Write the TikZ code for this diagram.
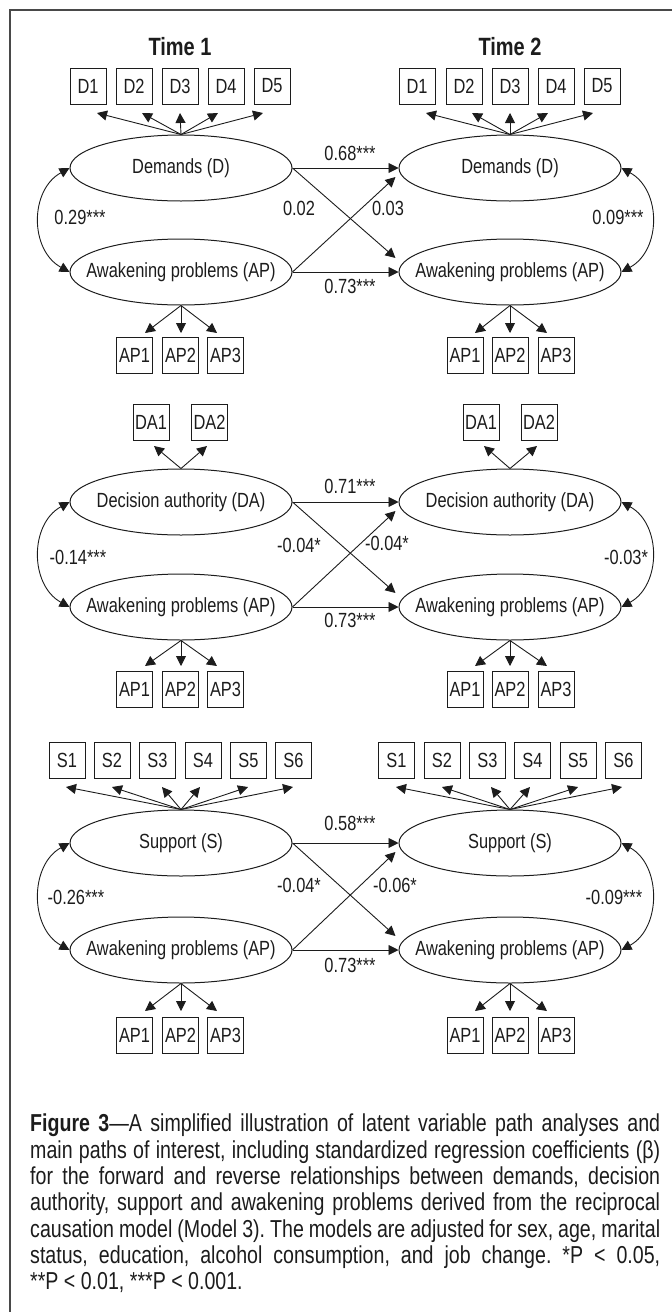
\documentclass[tikz,border=0pt]{standalone}
\usepackage{fontspec}
\setmainfont{Liberation Sans}[FakeStretch=0.8]
\usetikzlibrary{shapes.geometric,arrows.meta,calc}
\definecolor{ink}{HTML}{1C1C1C}
\newcommand{\nodefont}{\fontsize{20.5}{23}\selectfont}
\newcommand{\timefont}{\fontsize{25}{28}\selectfont\bfseries}
\newcommand{\capfont}{\fontsize{24.5}{26.3}\selectfont}
% label of fixed-size latent ellipses (does not widen the shape)
\newcommand{\zw}[1]{\makebox[0pt]{#1}}
\frenchspacing
\begin{document}
\begin{tikzpicture}[x=1pt,y=-1pt,
  latent/.style={ellipse, draw=ink, line width=1pt, minimum width=222pt,
    minimum height=66pt, inner sep=0pt, font=\nodefont, text=ink},
  item/.style={rectangle, draw=ink, line width=0.9pt, minimum width=36pt,
    minimum height=36pt, inner sep=0pt, font=\nodefont, text=ink},
  coef/.style={font=\nodefont, inner sep=0pt, text=ink},
  load/.style={-{Triangle[length=10pt,width=10pt]}, line width=0.9pt, draw=ink},
  cov/.style={{Triangle[length=10pt,width=10pt]}-{Triangle[length=10pt,width=10pt]},
    line width=0.9pt, draw=ink},
]
\useasboundingbox (0,0) rectangle (672,1312);
% frame
\draw[line width=1.5pt, draw=ink!80] (10,1312) -- (10,10) -- (672,10);

% time headers
\node[font=\timefont, text=ink] (time1) at (180,47) {Time 1};
\node[font=\timefont, text=ink] (time2) at (510,47) {Time 2};

% ---------- demands ----------
\node[latent] (d1) at (181,168) {\zw{Demands (D)}};
\node[latent] (pa1) at (181,272) {\zw{Awakening problems (AP)}};
\node[latent] (d2) at (510,168) {\zw{Demands (D)}};
\node[latent] (pa2) at (510,272) {\zw{Awakening problems (AP)}};
\foreach \i/\x/\tx in {1/88/97,2/134/142,3/180/180,4/226/218,5/272/263}{
  \node[item] (dl\i) at (\x,86) {D\i};
  \coordinate (dlt\i) at (\tx,113);
  \draw[load] (d1.north) -- (dlt\i);
}
\foreach \i/\x/\tx in {1/417/426,2/464/472,3/510/510,4/556/548,5/602/593}{
  \node[item] (dr\i) at (\x,86) {D\i};
  \coordinate (drt\i) at (\tx,113);
  \draw[load] (d2.north) -- (drt\i);
}
\foreach \i/\x/\tx in {1/134.5/145,2/180.5/181,3/225.5/217}{
  \node[item] (pal\i) at (\x,355) {AP\i};
  \coordinate (palt\i) at (\tx,333);
  \draw[load] (pa1.south) -- (palt\i);
}
\foreach \i/\x/\tx in {1/465/475,2/510/510,3/556/547}{
  \node[item] (par\i) at (\x,355) {AP\i};
  \coordinate (part\i) at (\tx,333);
  \draw[load] (pa2.south) -- (part\i);
}
\draw[load] (d1.east) -- (d2.west);
\draw[load] (pa1.east) -- (pa2.west);
\draw[load] (d1.east) -- ($(pa2.west)+(-3,-14)$);
\draw[load] (pa1.east) -- ($(d2.west)+(-3,9)$);
\draw[cov] (d1.west) .. controls +(-40,22) and +(-40,-22) .. (pa1.west);
\draw[cov] (d2.east) .. controls +(40,22) and +(40,-22) .. (pa2.east);
\node[coef] (c1a) at (350,153) {0.68***};
\node[coef] (c1b) at (350,286) {0.73***};
\node[coef] (c1c) at (299,208) {0.02};
\node[coef] (c1d) at (388,208) {0.03};
\node[coef] (c1e) at (80,217) {0.29***};
\node[coef] (c1f) at (618,217) {0.09***};

% ---------- decision authority ----------
\node[latent] (da1) at (181,502) {\zw{Decision authority (DA)}};
\node[latent] (pb1) at (181,607) {\zw{Awakening problems (AP)}};
\node[latent] (da2) at (510,502) {\zw{Decision authority (DA)}};
\node[latent] (pb2) at (510,607) {\zw{Awakening problems (AP)}};
\foreach \i/\x/\tx in {1/151/154,2/209.5/207}{
  \node[item] (dal\i) at (\x,422) {DA\i};
  \coordinate (dalt\i) at (\tx,446);
  \draw[load] (da1.north) -- (dalt\i);
}
\foreach \i/\x/\tx in {1/481/484,2/539/537}{
  \node[item] (dar\i) at (\x,422) {DA\i};
  \coordinate (dart\i) at (\tx,446);
  \draw[load] (da2.north) -- (dart\i);
}
\foreach \i/\x/\tx in {1/134.5/145,2/180.5/181,3/225.5/217}{
  \node[item] (pbl\i) at (\x,689) {AP\i};
  \coordinate (pblt\i) at (\tx,666);
  \draw[load] (pb1.south) -- (pblt\i);
}
\foreach \i/\x/\tx in {1/465/475,2/510/510,3/556/547}{
  \node[item] (pbr\i) at (\x,689) {AP\i};
  \coordinate (pbrt\i) at (\tx,666);
  \draw[load] (pb2.south) -- (pbrt\i);
}
\draw[load] (da1.east) -- (da2.west);
\draw[load] (pb1.east) -- (pb2.west);
\draw[load] (da1.east) -- ($(pb2.west)+(-3,-14)$);
\draw[load] (pb1.east) -- ($(da2.west)+(-3,9)$);
\draw[cov] (da1.west) .. controls +(-40,22) and +(-40,-22) .. (pb1.west);
\draw[cov] (da2.east) .. controls +(40,22) and +(40,-22) .. (pb2.east);
\node[coef] (c2a) at (350,486) {0.71***};
\node[coef] (c2b) at (350,620) {0.73***};
\node[coef] (c2c) at (299,545) {-0.04*};
\node[coef] (c2d) at (387,543) {-0.04*};
\node[coef] (c2e) at (78,557) {-0.14***};
\node[coef] (c2f) at (626,557) {-0.03*};

% ---------- support ----------
\node[latent] (s1) at (181,843) {\zw{Support (S)}};
\node[latent] (pc1) at (181,950) {\zw{Awakening problems (AP)}};
\node[latent] (s2) at (510,843) {\zw{Support (S)}};
\node[latent] (pc2) at (510,950) {\zw{Awakening problems (AP)}};
\foreach \i/\x/\tx in {1/67/66,2/112/112,3/157.5/162,4/203/200,5/248.5/248,6/293.5/293}{
  \node[item] (sl\i) at (\x,760) {S\i};
  \coordinate (slt\i) at (\tx,787);
  \draw[load] (s1.north) -- (slt\i);
}
\foreach \i/\x/\tx in {1/396.5/396,2/442/442,3/487.5/491,4/532.5/530,5/578/578,6/623.5/622}{
  \node[item] (sr\i) at (\x,760) {S\i};
  \coordinate (srt\i) at (\tx,787);
  \draw[load] (s2.north) -- (srt\i);
}
\foreach \i/\x/\tx in {1/134.5/145,2/180.5/181,3/225.5/217}{
  \node[item] (pcl\i) at (\x,1035) {AP\i};
  \coordinate (pclt\i) at (\tx,1011);
  \draw[load] (pc1.south) -- (pclt\i);
}
\foreach \i/\x/\tx in {1/465/475,2/510/510,3/556/547}{
  \node[item] (pcr\i) at (\x,1035) {AP\i};
  \coordinate (pcrt\i) at (\tx,1011);
  \draw[load] (pc2.south) -- (pcrt\i);
}
\draw[load] (s1.east) -- (s2.west);
\draw[load] (pc1.east) -- (pc2.west);
\draw[load] (s1.east) -- ($(pc2.west)+(-3,-14)$);
\draw[load] (pc1.east) -- ($(s2.west)+(-3,9)$);
\draw[cov] (s1.west) .. controls +(-40,22) and +(-40,-22) .. (pc1.west);
\draw[cov] (s2.east) .. controls +(40,22) and +(40,-22) .. (pc2.east);
\node[coef] (c3a) at (350,823) {0.58***};
\node[coef] (c3b) at (350,965) {0.73***};
\node[coef] (c3c) at (299,885) {-0.04*};
\node[coef] (c3d) at (395,885) {-0.06*};
\node[coef] (c3e) at (76,897) {-0.26***};
\node[coef] (c3f) at (614,897) {-0.09***};

% ---------- caption ----------
\node[anchor=north west, inner sep=0pt, text width=630pt, align=justify,
  font=\capfont, text=ink] (caption) at (30,1114) {\tolerance=10000
  \textbf{Figure 3}---A simplified illustration of latent variable path analyses and\linebreak
  main paths of interest, including standardized regression coefficients (β)\linebreak
  for the forward and reverse relationships between demands, decision\linebreak
  authority, support and awakening problems derived from the reciprocal\linebreak
  causation model (Model 3). The models are adjusted for sex, age, marital\linebreak
  status, education, alcohol consumption, and job change. *P \textless{} 0.05,\linebreak
  **P \textless{} 0.01, ***P \textless{} 0.001.};
\end{tikzpicture}
\end{document}
